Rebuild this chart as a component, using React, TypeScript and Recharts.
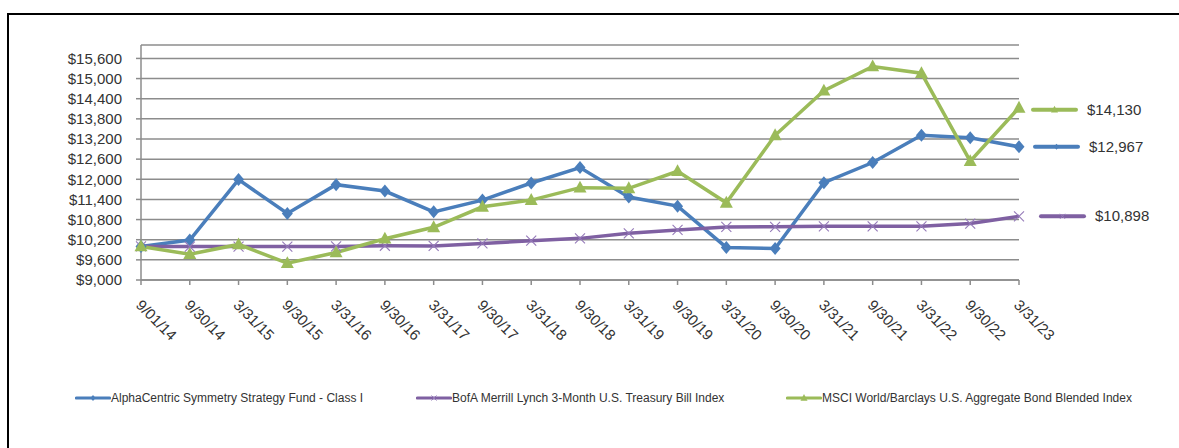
import { CartesianGrid, LabelList, Line, LineChart, XAxis, YAxis } from 'recharts';

const dates = [
  '9/01/14', '9/30/14', '3/31/15', '9/30/15', '3/31/16', '9/30/16', '3/31/17',
  '9/30/17', '3/31/18', '9/30/18', '3/31/19', '9/30/19', '3/31/20', '9/30/20',
  '3/31/21', '9/30/21', '3/31/22', '9/30/22', '3/31/23'
];

const fundValues = [
  10000, 10190, 11990, 10980, 11840, 11650, 11030, 11380, 11890, 12350,
  11470, 11200, 9970, 9940, 11900, 12500, 13310, 13240, 12967
];

const treasuryValues = [
  10000, 9995, 9995, 9995, 10000, 10020, 10015, 10090, 10170, 10240,
  10390, 10490, 10580, 10585, 10600, 10600, 10600, 10680, 10898
];

const blendedValues = [
  10000, 9770, 10060, 9500, 9820, 10230, 10570, 11180, 11380, 11750,
  11730, 12240, 11300, 13310, 14640, 15360, 15160, 12540, 14130
];

const yTicks = [9000, 9600, 10200, 10800, 11400, 12000, 12600, 13200, 13800, 14400, 15000, 15600];

const seriesNames = [
  'AlphaCentric Symmetry Strategy Fund - Class I',
  'BofA Merrill Lynch 3-Month U.S. Treasury Bill Index',
  'MSCI World/Barclays U.S. Aggregate Bond Blended Index'
];

const data = dates.map((date, i) => ({
  date,
  fund: fundValues[i],
  treasury: treasuryValues[i],
  blended: blendedValues[i]
}));

const BLUE = '#4A7EBB';
const PURPLE = '#7F60A2';
const GREEN = '#9BBB59';
const GRID = '#8c8c8c';
const TEXT = '#333333';
const FONT = '"Liberation Sans", Arial, sans-serif';

const money = (v: number) => '$' + String(v).replace(/\B(?=(\d{3})+(?!\d))/g, ',');

// marker shapes, roughly like the Excel ones
const diamond = (cx: number, cy: number, w = 5.5, h = 6.5) => (
  <polygon points={`${cx},${cy - h} ${cx + w},${cy} ${cx},${cy + h} ${cx - w},${cy}`} fill={BLUE} />
);
const triangle = (cx: number, cy: number, s = 6.5) => (
  <polygon points={`${cx},${cy - s - 0.5} ${cx + s},${cy + s * 0.75} ${cx - s},${cy + s * 0.75}`} fill={GREEN} />
);
const cross = (cx: number, cy: number, s = 5, w = 1.1) => (
  <g stroke="#9479b8" strokeWidth={w}>
    <line x1={cx - s} y1={cy - s} x2={cx + s} y2={cy + s} />
    <line x1={cx - s} y1={cy + s} x2={cx + s} y2={cy - s} />
  </g>
);

const markers: Record<string, (cx: number, cy: number, small?: boolean) => any> = {
  fund: (cx, cy, small) => (small ? diamond(cx, cy, 2.5, 3) : diamond(cx, cy)),
  treasury: (cx, cy, small) => (small ? cross(cx, cy, 2.5, 1) : cross(cx, cy)),
  blended: (cx, cy, small) => (small ? triangle(cx, cy, 3.5) : triangle(cx, cy))
};

const dotFor = (key: string) => (p: any) => (
  <g key={`${key}-${p.index}`}>{markers[key](p.cx, p.cy)}</g>
);

// the value tag drawn to the right of the last point
const endLabel = (key: string, color: string, gap: number, dy = 0) => (p: any) => {
  if (p.index !== dates.length - 1) return null;
  const x0 = p.x + gap;
  const y = p.y + dy;
  return (
    <g>
      <line x1={x0} y1={y} x2={x0 + 43} y2={y} stroke={color} strokeWidth={4} strokeLinecap="round" />
      {markers[key](x0 + 21.5, y, true)}
      <text x={x0 + 54} y={y + 5} fontSize={15} fontFamily={FONT} fill={TEXT}>
        {money(p.value)}
      </text>
    </g>
  );
};

const XTick = ({ x, y, payload }: any) => (
  <text
    x={x - 6}
    y={y + 19}
    transform={`rotate(45 ${x - 6} ${y + 19})`}
    fontSize={15}
    fontFamily={FONT}
    fill={TEXT}
  >
    {payload.value}
  </text>
);

const legendItems = [
  { name: seriesNames[0], key: 'fund', color: BLUE, left: 75 },
  { name: seriesNames[1], key: 'treasury', color: PURPLE, left: 416 },
  { name: seriesNames[2], key: 'blended', color: GREEN, left: 786 }
];

export default function App() {
  return (
    <div style={{ position: 'absolute', left: 0, top: 0, width: 1179, height: 448, overflow: 'hidden', background: '#fff' }}>
      <div
        style={{
          position: 'absolute',
          left: 7,
          top: 13,
          width: 1200,
          height: 460,
          borderLeft: '2px solid #000',
          borderTop: '2px solid #000'
        }}
      />
      <div style={{ position: 'absolute', left: 0, top: 0 }}>
        <LineChart width={1179} height={448} data={data} margin={{ top: 45, right: 160, bottom: 108, left: 0 }}>
          <CartesianGrid vertical={false} stroke={GRID} strokeWidth={1.5} />
          <XAxis
            dataKey="date"
            height={60}
            interval={0}
            tick={<XTick />}
            tickSize={5}
            axisLine={{ stroke: GRID, strokeWidth: 1.5 }}
            tickLine={{ stroke: GRID, strokeWidth: 1.5 }}
          />
          <YAxis
            width={141}
            domain={[9000, 16000]}
            ticks={yTicks}
            interval={0}
            tickFormatter={money}
            tickSize={5}
            tickMargin={14}
            tick={{ fontSize: 15, fontFamily: FONT, fill: TEXT }}
            axisLine={{ stroke: GRID, strokeWidth: 1.5 }}
            tickLine={{ stroke: GRID, strokeWidth: 1.5 }}
          />
          <Line
            dataKey="fund"
            name={seriesNames[0]}
            stroke={BLUE}
            strokeWidth={3.5}
            dot={dotFor('fund')}
            activeDot={false}
            isAnimationActive={false}
          >
            <LabelList dataKey="fund" content={endLabel('fund', BLUE, 16)} />
          </Line>
          <Line
            dataKey="treasury"
            name={seriesNames[1]}
            stroke={PURPLE}
            strokeWidth={3.5}
            dot={dotFor('treasury')}
            activeDot={false}
            isAnimationActive={false}
          >
            <LabelList dataKey="treasury" content={endLabel('treasury', PURPLE, 22)} />
          </Line>
          <Line
            dataKey="blended"
            name={seriesNames[2]}
            stroke={GREEN}
            strokeWidth={3.5}
            dot={dotFor('blended')}
            activeDot={false}
            isAnimationActive={false}
          >
            <LabelList dataKey="blended" content={endLabel('blended', GREEN, 14, 2)} />
          </Line>
        </LineChart>
      </div>
      {legendItems.map((item) => (
        <div
          key={item.key}
          style={{
            position: 'absolute',
            left: item.left,
            top: 390,
            height: 16,
            display: 'flex',
            alignItems: 'center',
            fontFamily: FONT,
            fontSize: 12,
            color: TEXT,
            whiteSpace: 'nowrap'
          }}
        >
          <svg width={36} height={14}>
            <line x1={1.5} y1={7} x2={34.5} y2={7} stroke={item.color} strokeWidth={3.2} strokeLinecap="round" />
            {markers[item.key](18, 7, true)}
          </svg>
          <span>{item.name}</span>
        </div>
      ))}
    </div>
  );
}
